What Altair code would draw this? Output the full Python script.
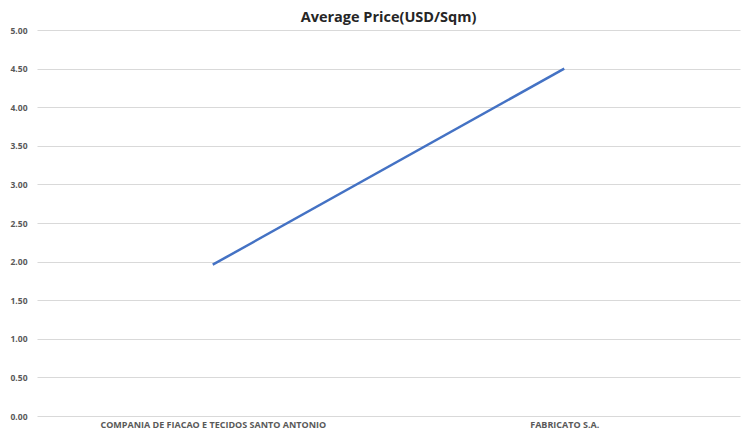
import altair as alt
import pandas as pd

companies = ["COMPANIA DE FIACAO E TECIDOS SANTO ANTONIO", "FABRICATO S.A."]
prices = [1.96, 4.50]

df = pd.DataFrame({"company": companies, "price": prices})

chart = alt.Chart(df).mark_line(color="#4472C4", strokeWidth=2.5).encode(
    x=alt.X("company:N", sort=companies, title=None,
            scale=alt.Scale(paddingInner=0, paddingOuter=0.5),
            axis=alt.Axis(labelAngle=0, domain=False, ticks=False, labelPadding=4,
                          labelFont="Open Sans", labelFontSize=9, labelFontWeight="bold",
                          labelColor="#595959", labelLimit=0)),
    y=alt.Y("price:Q", title=None,
            scale=alt.Scale(domain=[0, 5], nice=False),
            axis=alt.Axis(values=[0, 0.5, 1, 1.5, 2, 2.5, 3, 3.5, 4, 4.5, 5], format=".2f",
                          domain=False, ticks=False, labelPadding=10,
                          labelFont="Open Sans", labelFontSize=8.5, labelFontWeight="bold",
                          labelColor="#595959", gridColor="#d9d9d9", gridWidth=1)),
).properties(
    width=703, height=386,
    title=alt.TitleParams("Average Price(USD/Sqm)", font="Open Sans", fontSize=14.5,
                          fontWeight="bold", color="#262626", offset=1),
    autosize=alt.AutoSizeParams(type="none"),
    padding={"left": 29, "top": 22, "right": 2, "bottom": 14},
).configure_view(stroke=None)

chart.save("out.html", embed_options={"renderer": "svg", "actions": False})
